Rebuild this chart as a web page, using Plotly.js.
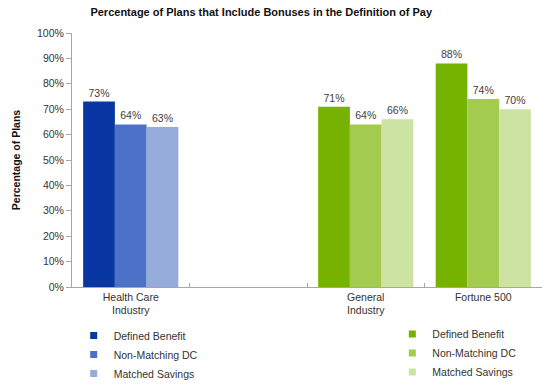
<!DOCTYPE html>
<html>
<head>
<meta charset="utf-8">
<script src="https://cdn.plot.ly/plotly-3.0.1.min.js"></script>
<style>html,body{margin:0;padding:0;background:#fff;}#chart{width:550px;height:386px;}</style>
</head>
<body>
<div id="chart"></div>
<script>
// Data
const categories = ["Health Care Industry", "(gap)", "General Industry", "Fortune 500"];
const tickLabels = ["Health Care<br>Industry", "", "General<br>Industry", "Fortune 500"];
const seriesNames = ["Defined Benefit", "Non-Matching DC", "Matched Savings"];
const healthCareValues = [73, 64, 63];        // DB, Non-Matching DC, Matched Savings
const generalIndustryValues = [71, 64, 66];
const fortune500Values = [88, 74, 70];
const blueColors = ["#0836a3", "#4b72c6", "#95acdb"];
const greenColors = ["#76b300", "#a3cb4d", "#cde3a1"];

const labelFont = {family: "Liberation Sans, Arial, sans-serif", size: 10.5, color: "#404040"};
const traces = [];
const groups = ["db", "nm", "ms"];
// Blue (Health Care) bars
for (let i = 0; i < 3; i++) {
  traces.push({
    type: "bar", x: [categories[0]], y: [healthCareValues[i] / 100],
    name: seriesNames[i], offsetgroup: groups[i], showlegend: false,
    marker: {color: blueColors[i]},
    text: [healthCareValues[i] + "%"], textposition: "outside", cliponaxis: false,
    textfont: labelFont, hoverinfo: "skip"
  });
}
// Green (General Industry & Fortune 500) bars
const greenVals = [generalIndustryValues, fortune500Values];
for (let i = 0; i < 3; i++) {
  const ys = [greenVals[0][i], greenVals[1][i]];
  traces.push({
    type: "bar", x: [categories[2], categories[3]], y: ys.map(v => v / 100),
    name: seriesNames[i], offsetgroup: groups[i], showlegend: false,
    marker: {color: greenColors[i]},
    text: ys.map(v => v + "%"), textposition: "outside", cliponaxis: false,
    textfont: labelFont, hoverinfo: "skip"
  });
}
// Legend entries (square markers)
for (let i = 0; i < 3; i++) {
  traces.push({type: "scatter", mode: "markers", x: [null], y: [null], name: seriesNames[i],
    marker: {symbol: "square", size: 7, color: blueColors[i]}, legend: "legend", showlegend: true});
}
for (let i = 0; i < 3; i++) {
  traces.push({type: "scatter", mode: "markers", x: [null], y: [null], name: seriesNames[i],
    marker: {symbol: "square", size: 7, color: greenColors[i]}, legend: "legend2", showlegend: true});
}

const font = {family: "Liberation Sans, Arial, sans-serif", size: 10.5, color: "#333333"};
const layout = {
  width: 550, height: 386,
  margin: {l: 72, r: 8, t: 33, b: 99, autoexpand: false},
  paper_bgcolor: "#ffffff", plot_bgcolor: "#ffffff",
  font: font,
  barmode: "group", bargap: 0.19, bargroupgap: 0,
  title: {text: "<b>Percentage of Plans that Include Bonuses in the Definition of Pay</b>",
    x: 0.475, xanchor: "center", y: 0.968, yanchor: "middle", yref: "container",
    font: {family: "Liberation Sans, Arial, sans-serif", size: 11, color: "#111111"}},
  xaxis: {
    type: "category", categoryorder: "array", categoryarray: categories,
    tickvals: categories, ticktext: tickLabels, tickson: "boundaries",
    ticks: "inside", ticklen: 4, tickcolor: "#a6a6a6",
    showline: true, linecolor: "#a6a6a6", linewidth: 1, showgrid: false, zeroline: false,
    tickfont: font, fixedrange: true
  },
  yaxis: {
    range: [0, 1], tickvals: [0,0.1,0.2,0.3,0.4,0.5,0.6,0.7,0.8,0.9,1],
    tickformat: ".0%", ticks: "outside", ticklen: 5, tickcolor: "#a6a6a6",
    showline: true, linecolor: "#a6a6a6", linewidth: 1, showgrid: false, zeroline: false,
    tickfont: font, fixedrange: true,
    title: {text: "<b>Percentage of Plans</b>", standoff: 14,
      font: {family: "Liberation Sans, Arial, sans-serif", size: 10.5, color: "#111111"}}
  },
  legend: {x: 0.0036, y: -0.134, xanchor: "left", yanchor: "top", orientation: "v",
    font: font, bgcolor: "rgba(0,0,0,0)", tracegroupgap: 0, itemwidth: 30},
  legend2: {x: 0.6815, y: -0.128, xanchor: "left", yanchor: "top", orientation: "v",
    font: font, bgcolor: "rgba(0,0,0,0)", tracegroupgap: 0, itemwidth: 30},
  showlegend: true
};
Plotly.newPlot("chart", traces, layout, {displayModeBar: false, staticPlot: true});
</script>
</body>
</html>
